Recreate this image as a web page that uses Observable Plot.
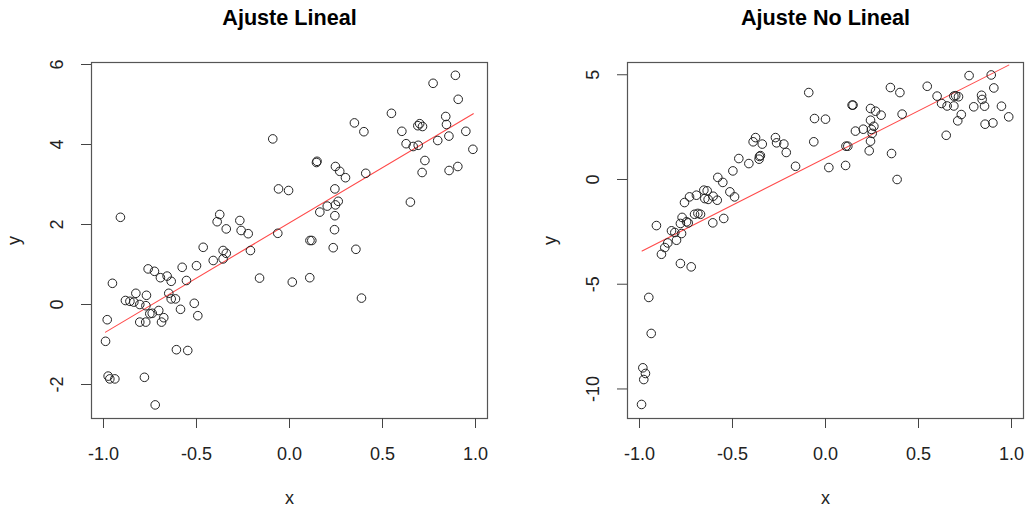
<!DOCTYPE html>
<html>
<head>
<meta charset="utf-8">
<script src="https://cdn.jsdelivr.net/npm/d3@7"></script>
<script src="https://cdn.jsdelivr.net/npm/@observablehq/plot@0.6"></script>
<style>
  html, body { margin: 0; padding: 0; background: #fff; }
  #wrap { position: relative; width: 1026px; height: 509px; }
  #wrap > div { position: absolute; top: 0; }
  #left { left: 0; }
  #right { left: 513px; }
</style>
</head>
<body>
<div id="wrap"><div id="left"></div><div id="right"></div></div>
<script>
// ---------- Data: "Ajuste Lineal" ----------
const titleLin = "Ajuste Lineal";
const xLin = [
  -0.909, -0.09, -0.059, -0.005, -0.375, -0.389, -0.34, -0.267, -0.26, -0.222, -0.063,
  -0.464, -0.357, -0.34, -0.41, -0.357, -0.21, -0.161, 0.015, -0.952, -0.76, -0.726,
  -0.694, -0.658, -0.636, -0.577, -0.5, -0.554, -0.826, -0.769, -0.882, -0.858, -0.837,
  -0.805, -0.772, -0.649, -0.636, -0.613, -0.512, -0.586, -0.493, -0.703, -0.751, -0.738,
  -0.676, -0.688, -0.805, -0.773, -0.98, -0.989, -0.608, -0.547, -0.975, -0.966, -0.939,
  -0.78, -0.722,
  0.892, 0.772, 0.907, 0.548, 0.349, 0.4, 0.69, 0.70, 0.715, 0.84, 0.844, 0.948, 0.604,
  0.627, 0.665, 0.692, 0.797, 0.857, 0.986, 0.728, 0.713, 0.858, 0.905, 0.65, 0.145, 0.148,
  0.247, 0.27, 0.301, 0.41, 0.244, 0.203, 0.247, 0.262, 0.163, 0.244, 0.242,
  0.11, 0.12, 0.235, 0.357, 0.109, 0.387
];
const yLin = [
  2.18, 4.14, 2.89, 2.85, 2.25, 2.07, 1.89, 2.10, 1.85, 1.77, 1.78,
  1.43, 1.35, 1.28, 1.10, 1.14, 1.35, 0.66, 0.56, 0.53, 0.89, 0.83,
  0.67, 0.71, 0.58, 0.93, 0.97, 0.60, 0.28, 0.23, 0.10, 0.08, 0.06,
  0.00, -0.03, 0.28, 0.14, 0.14, 0.03, -0.12, -0.28, -0.15, -0.23, -0.22,
  -0.33, -0.44, -0.44, -0.44, -0.38, -0.92, -1.13, -1.15, -1.79, -1.86, -1.86,
  -1.82, -2.51,
  5.73, 5.53, 5.13, 4.78, 4.54, 4.32, 4.47, 4.52, 4.45, 4.70, 4.50, 4.33, 4.33,
  4.02, 3.95, 3.98, 4.10, 4.21, 3.88, 3.60, 3.30, 3.35, 3.45, 2.56, 3.55, 3.58,
  3.45, 3.33, 3.17, 3.28, 2.89, 2.46, 2.49, 2.58, 2.31, 2.22, 1.87,
  1.60, 1.60, 1.42, 1.38, 0.67, 0.16
];
const fitXLin = [-0.989, 0.988];
const fitYLin = [-0.69, 4.77];
const xTicksLin = [-1.0, -0.5, 0.0, 0.5, 1.0];
const yTicksLin = [-2, 0, 2, 4, 6];

// ---------- Data: "Ajuste No Lineal" ----------
const titleNL = "Ajuste No Lineal";
const xNL = [
  -0.09, -0.059, -0.063, -0.376, -0.389, -0.34, -0.269, -0.263, -0.224, -0.211, -0.161,
  -0.466, -0.412, -0.355, -0.35, -0.357, -0.498, -0.579, -0.552, -0.514, -0.489, -0.547,
  -0.606, -0.731, -0.694, -0.654, -0.636, -0.649, -0.631, -0.604, -0.582, -0.758, -0.771,
  -0.704, -0.686, -0.672, -0.78, -0.747, -0.738, -0.909, -0.828, -0.81, -0.774,
  -0.801, -0.848, -0.864, -0.882, -0.78, -0.722, -0.95, -0.937, -0.982, -0.968, -0.977, -0.989,
  0.0, 0.018, 0.108, 0.11, 0.12, 0.143, 0.148, 0.161, 0.203, 0.242, 0.269, 0.299, 0.242,
  0.26, 0.247, 0.251, 0.242, 0.235, 0.355, 0.385, 0.349, 0.4, 0.412, 0.547, 0.6, 0.624,
  0.654, 0.69, 0.69, 0.70, 0.715, 0.73, 0.711, 0.649, 0.772, 0.891, 0.905, 0.839, 0.842,
  0.797, 0.855, 0.946, 0.985, 0.858, 0.9
];
const yNL = [
  4.15, 2.91, 1.80, 2.00, 1.80, 1.69, 2.00, 1.75, 1.69, 1.29, 0.63,
  1.00, 0.76, 1.10, 1.14, 0.97, 0.41, 0.10, -0.14, -0.59, -0.83, -1.86,
  -2.07, -0.83, -0.75, -0.51, -0.54, -0.91, -0.95, -0.80, -0.99, -1.10, -1.81,
  -1.66, -1.62, -1.66, -2.10, -2.02, -2.07, -2.20, -2.45, -2.53, -2.58,
  -2.90, -3.03, -3.25, -3.57, -4.01, -4.17, -5.63, -7.35, -8.99, -9.26, -9.55, -10.74,
  2.88, 0.57, 0.67, 1.59, 1.59, 3.55, 3.55, 2.31, 2.40, 3.39, 3.26, 3.07, 2.83,
  2.54, 2.39, 2.20, 1.83, 1.37, 1.24, 0.00, 4.39, 4.15, 3.12, 4.45, 3.98, 3.63,
  3.51, 3.51, 3.98, 4.00, 3.95, 3.10, 2.80, 2.11, 4.96, 4.99, 4.37, 4.02, 3.82,
  3.47, 3.50, 3.50, 2.99, 2.64, 2.70
];
const fitXNL = [-0.986, 0.985];
const fitYNL = [-3.41, 5.46];
const xTicksNL = [-1.0, -0.5, 0.0, 0.5, 1.0];
const yTicksNL = [-10, -5, 0, 5];

// ---------- Drawing ----------
const FONT = "'Liberation Sans', Arial, Helvetica, sans-serif";
const INK = "#222";

function panel({title, xs, ys, fitX, fitY, xTicks, yTicks, xDomain, yDomain, marginLeft, marginRight}) {
  return Plot.plot({
    width: 513,
    height: 509,
    marginLeft, marginRight,
    marginTop: 62,
    marginBottom: 91,
    style: {fontFamily: FONT, fontSize: "18px", color: INK, background: "white"},
    x: {domain: xDomain},
    y: {domain: yDomain},
    marks: [
      Plot.frame({stroke: "#555", strokeWidth: 1.2}),
      Plot.axisX(xTicks, {tickSize: 10, tickPadding: 18.5, fontSize: 18, stroke: "#444",
        tickFormat: d => d.toFixed(1), label: null}),
      Plot.axisY(yTicks, {tickSize: 10, tickFormat: () => "", stroke: "#444", label: null}),
      Plot.text(yTicks, {y: d => d, text: d => String(d), frameAnchor: "left",
        dx: -34, rotate: -90, textAnchor: "middle", lineAnchor: "middle", fontSize: 18, fill: INK}),
      Plot.line({length: fitX.length}, {x: fitX, y: fitY, stroke: "#ff4a4a", strokeWidth: 1.1}),
      Plot.dot({length: xs.length}, {x: xs, y: ys, r: 4.3, stroke: INK, strokeWidth: 1, fill: "none"}),
      Plot.text([title], {frameAnchor: "top", dy: -38, lineAnchor: "bottom",
        fontWeight: "bold", fontSize: 21.6, fill: "#000"}),
      Plot.text(["x"], {frameAnchor: "bottom", dy: 80, lineAnchor: "middle", fontSize: 18, fill: INK}),
      Plot.text(["y"], {frameAnchor: "left", dx: -77, rotate: -90, lineAnchor: "middle",
        textAnchor: "middle", fontSize: 18, fill: INK})
    ]
  });
}

document.getElementById("left").appendChild(panel({
  title: titleLin, xs: xLin, ys: yLin, fitX: fitXLin, fitY: fitYLin,
  xTicks: xTicksLin, yTicks: yTicksLin,
  xDomain: [-1.0645, 1.0645], yDomain: [-2.85, 6.05],
  marginLeft: 91, marginRight: 26
}));
document.getElementById("right").appendChild(panel({
  title: titleNL, xs: xNL, ys: yNL, fitX: fitXNL, fitY: fitYNL,
  xTicks: xTicksNL, yTicks: yTicksNL,
  xDomain: [-1.0645, 1.0645], yDomain: [-11.41, 5.585],
  marginLeft: 114, marginRight: 3
}));
</script>
</body>
</html>
